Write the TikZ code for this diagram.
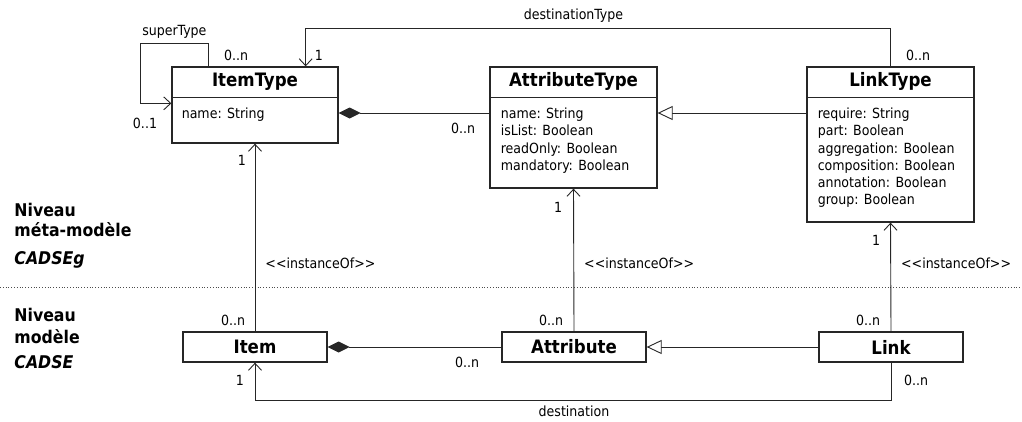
\documentclass[tikz,border=0pt]{standalone}
\usepackage{fontspec}
\setmainfont{DejaVu Sans Condensed}
\usetikzlibrary{positioning,calc,arrows.meta}

\begin{document}
\begin{tikzpicture}[x=1pt, y=-1pt, line width=0.9pt, draw=black!85,
  box/.style={draw=black!85, line width=1.3pt, inner sep=0pt},
  cname/.style={font=\fontsize{18.5}{20}\selectfont\bfseries},
  attrs/.style={anchor=north west, align=left, inner sep=0pt, font=\fontsize{14}{17.3}\selectfont},
  lbl/.style={font=\fontsize{14}{16}\selectfont, inner sep=0pt},
  side/.style={anchor=north west, align=left, inner sep=0pt, font=\fontsize{17.5}{20}\selectfont\bfseries},
  assoc/.style={-{Straight Barb[length=7pt, width=13pt]}},
  comp/.style={{Diamond[length=22pt, width=11pt]}-},
  gen/.style={-{Triangle[open, length=15pt, width=14pt, fill=white]}}]

  % Picture size
  \useasboundingbox (0,0) rectangle (1022,421);

  % Level separator
  \draw[dotted, line width=0.8pt, black!70] (0,287) -- (1022,287);

  % Level names
  \node[side] (meta-level) at (14,203) {Niveau\\méta-modèle\\[8pt]\textit{CADSEg}};
  \node[side] (model-level) at (14,308) {Niveau\\[2pt]modèle\\[5pt]\textit{CADSE}};

  % Meta-model classes
  \node[box, minimum width=166, minimum height=76] (itemtype) at (255,105) {};
  \node[box, minimum width=167, minimum height=121] (atype) at (573.5,127.5) {};
  \node[box, minimum width=167, minimum height=155] (linktype) at (890.5,144.5) {};

  \node[cname] (itemtype-name) at ($(itemtype.north)+(0,15.5)$) {ItemType};
  \node[cname] (atype-name) at ($(atype.north)+(0,15.5)$) {AttributeType};
  \node[cname] (linktype-name) at ($(linktype.north)+(0,15.5)$) {LinkType};

  \foreach \c in {itemtype, atype, linktype}
    \draw[line width=1.3pt] ($(\c.north west)+(0,31)$) -- ($(\c.north east)+(0,31)$);

  \node[attrs] (itemtype-attr) at ($(itemtype.north west)+(10,41)$) {name: String};
  \node[attrs] (atype-attr) at ($(atype.north west)+(11,41)$)
    {name: String\\isList: Boolean\\readOnly: Boolean\\mandatory: Boolean};
  \node[attrs] (linktype-attr) at ($(linktype.north west)+(11,41)$)
    {require: String\\part: Boolean\\aggregation: Boolean\\composition: Boolean\\annotation: Boolean\\group: Boolean};

  % Model classes
  \node[box, cname, minimum width=144, minimum height=30] (item) at (255,347) {Item};
  \node[box, cname, minimum width=144, minimum height=30] (attribute) at (574,347) {Attribute};
  \node[box, cname, minimum width=144, minimum height=30] (link) at (891,347) {Link};

  % superType (self association of ItemType)
  \draw[assoc] ($(itemtype.north west)+(37,0)$) -- ++(0,-23)
    -- node[lbl, above=4pt] (super-lbl) {superType} ++(-68,0)
    |- ($(itemtype.north west)+(0,37)$);
  \node[lbl] (super-n) at (236,55) {0..n};
  \node[lbl] (super-1) at (145,123) {0..1};

  % destinationType
  \draw[assoc] (linktype.north) |- ($(itemtype.north east)+(-33,-38)$)
    -- ($(itemtype.north east)+(-33,0)$);
  \node[lbl] (desttype-lbl) at ($(atype.north)+(0,-51)$) {destinationType};
  \node[lbl] (desttype-1) at (319,55) {1};
  \node[lbl] (desttype-n) at (918,55) {0..n};

  % Composition ItemType - AttributeType
  \coordinate (comp1) at ($(itemtype.east)+(0,8)$);
  \draw[comp] (comp1) -- (comp1 -| atype.west);
  \node[lbl] (comp1-n) at (463,128) {0..n};

  % Generalization LinkType - AttributeType
  \draw[gen] (comp1 -| linktype.west) -- (comp1 -| atype.east);

  % instanceOf links
  \draw[assoc] (item.north) -- node[lbl, pos=0.365, right=10pt] (inst1) {{<}{<}instanceOf{>}{>}} (itemtype.south);
  \draw[assoc] (attribute.north) -- node[lbl, pos=0.48, right=10pt] (inst2) {{<}{<}instanceOf{>}{>}} (atype.south);
  \draw[assoc] (link.north) -- node[lbl, pos=0.627, right=10pt] (inst3) {{<}{<}instanceOf{>}{>}} (linktype.south);
  \node[lbl] (inst1-1) at (242,160) {1};
  \node[lbl] (inst1-n) at (233,320) {0..n};
  \node[lbl] (inst2-1) at (558,207) {1};
  \node[lbl] (inst2-n) at (551,320) {0..n};
  \node[lbl] (inst3-1) at (876,240) {1};
  \node[lbl] (inst3-n) at (868,320) {0..n};

  % Composition Item - Attribute
  \draw[comp] (item.east) -- (attribute.west);
  \node[lbl] (comp2-n) at (467,362) {0..n};

  % Generalization Link - Attribute
  \draw[gen] (link.west) -- (attribute.east);

  % destination
  \draw[assoc] (link.south) -- ++(0,38) -| (item.south);
  \node[lbl] (dest-lbl) at (574,411) {destination};
  \node[lbl] (dest-1) at (240,380) {1};
  \node[lbl] (dest-n) at (916,380) {0..n};

\end{tikzpicture}
\end{document}
